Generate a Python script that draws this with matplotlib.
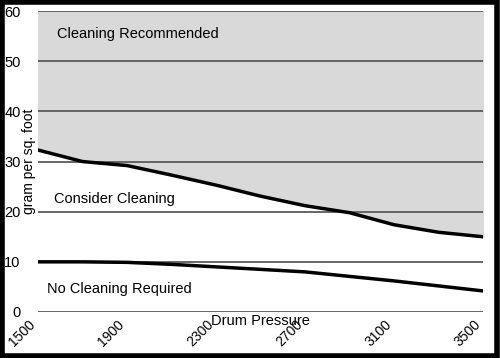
import matplotlib.pyplot as plt
from matplotlib.patches import Rectangle

plt.rcParams['font.family'] = ['Liberation Sans', 'DejaVu Sans']

pressure = [1500, 1700, 1900, 2100, 2300, 2500, 2700, 2900, 3100, 3300, 3500]
upper = [32.3, 30.0, 29.2, 27.3, 25.3, 23.1, 21.2, 19.8, 17.4, 15.9, 15.0]
lower = [10.0, 10.0, 9.9, 9.5, 9.0, 8.5, 8.0, 7.1, 6.2, 5.2, 4.2]
xticks = [1500, 1900, 2300, 2700, 3100, 3500]
yticks = [0, 10, 20, 30, 40, 50, 60]

fig = plt.figure(figsize=(5, 3.58), dpi=100)
ax = fig.add_axes([0.076, 0.1285, 0.890, 0.8405])

ax.fill_between(pressure, upper, 60, color='#d9d9d9', zorder=1)
for y in yticks:
    ax.axhline(y, color='#5a5a5a', lw=1.3, zorder=2)
ax.plot(pressure, upper, color='black', lw=2.5, zorder=3)
ax.plot(pressure, lower, color='black', lw=2.5, zorder=3)

ax.text(1585, 55.5, 'Cleaning Recommended', fontsize=10.5, va='center')
ax.text(1570, 22.5, 'Consider Cleaning', fontsize=10.5, va='center')
ax.text(1540, 4.6, 'No Cleaning Required', fontsize=10.5, va='center')

ax.set_xlim(1500, 3500)
ax.set_ylim(0, 60)
ax.set_xticks(xticks)
ax.set_xticklabels([str(v) for v in xticks], rotation=45, ha='right', fontsize=10)
ax.set_yticks(yticks)
ax.set_yticklabels([str(v) for v in yticks], fontsize=10.5)
ax.tick_params(length=0)
ax.tick_params(axis='y', pad=12.5)
ax.tick_params(axis='x', pad=4)
for s in ax.spines.values():
    s.set_visible(False)

ax.set_xlabel('Drum Pressure', fontsize=10.5)
ax.xaxis.set_label_coords(0.5, -0.005)
ax.set_ylabel('gram per sq. foot', fontsize=10)
ax.yaxis.set_label_coords(-0.005, 0.5)

fig.patches.append(Rectangle((0.004, 0.006), 0.99, 0.988, transform=fig.transFigure,
                             fill=False, edgecolor='black', lw=4))

fig.savefig('out.png', dpi=100)
